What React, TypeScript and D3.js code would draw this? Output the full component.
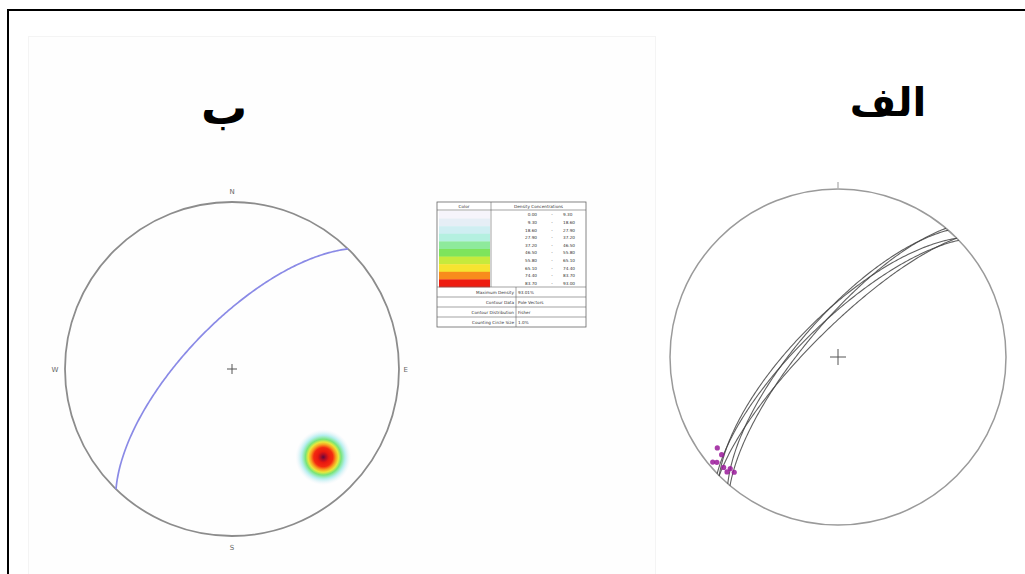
import React from "react";
import * as d3 from "d3";

const W = 1025;
const H = 574;

// Net "ب": one plane (dip direction / dip) and the pole density peak
const leftPlanes = [{ dipDir: 314, dip: 68 }];
const leftPole = { trend: 134, plunge: 25 };
const compassLabels = ["N", "E", "S", "W"];

// Net "الف": measured planes and lineations
const rightPlanes = [
  { dipDir: 310, dip: 74 },
  { dipDir: 311, dip: 71 },
  { dipDir: 315, dip: 77 },
  { dipDir: 316, dip: 73 },
  { dipDir: 315, dip: 70 },
];
const rightLineations = [
  { trend: 233, plunge: 11 },
  { trend: 230, plunge: 10.5 },
  { trend: 230, plunge: 3 },
  { trend: 229, plunge: 5 },
  { trend: 226, plunge: 6 },
  { trend: 224, plunge: 5.5 },
  { trend: 222, plunge: 8.5 },
  { trend: 224, plunge: 8.5 },
];

// Legend: density classes
const densityColors = [
  "#f6f4fb", "#e6eef6", "#cfeef2", "#b4f0e0", "#8eea9c",
  "#7ee45c", "#c6ea3c", "#f6e430", "#f88c1c", "#ee1c10",
];
const densityBreaks = [
  "0.00", "9.30", "18.60", "27.90", "37.20", "46.50",
  "55.80", "65.10", "74.40", "83.70", "93.00",
];
const infoLabels = ["Maximum Density", "Contour Data", "Contour Distribution", "Counting Circle Size"];
const infoValues = ["93.01%", "Pole Vectors", "Fisher", "1.0%"];

const rad = Math.PI / 180;

// Lower-hemisphere equal-area projection to unit-disc coords (east, south)
function project(trend: number, plunge: number): [number, number] {
  const rho = Math.SQRT2 * Math.sin(((90 - plunge) / 2) * rad);
  return [rho * Math.sin(trend * rad), -rho * Math.cos(trend * rad)];
}

function greatCircle(dipDir: number, dip: number): [number, number][] {
  const st = (dipDir - 90) * rad;
  const dd = dipDir * rad;
  const dp = dip * rad;
  const S = [Math.cos(st), Math.sin(st), 0];
  const D = [Math.cos(dp) * Math.cos(dd), Math.cos(dp) * Math.sin(dd), Math.sin(dp)];
  return d3.range(0, 180.5, 1).map((t) => {
    const c = Math.cos(t * rad);
    const s = Math.sin(t * rad);
    const v = [c * S[0] + s * D[0], c * S[1] + s * D[1], c * S[2] + s * D[2]];
    const plunge = Math.asin(Math.max(-1, Math.min(1, v[2]))) / rad;
    const trend = Math.atan2(v[1], v[0]) / rad;
    return project(trend, plunge);
  });
}

function makeNet(cx: number, cy: number, r: number) {
  const x = d3.scaleLinear().domain([-1, 1]).range([cx - r, cx + r]);
  const y = d3.scaleLinear().domain([-1, 1]).range([cy - r, cy + r]);
  const line = d3
    .line<[number, number]>()
    .x((d) => x(d[0]))
    .y((d) => y(d[1]))
    .curve(d3.curveLinear);
  return { x, y, line, cx, cy, r };
}

const leftNet = makeNet(232, 369, 167);
const rightNet = makeNet(838, 357, 168);

const FONT = "'DejaVu Sans', sans-serif";

function Legend() {
  const x0 = 437, y0 = 202, x1 = 586, y1 = 327;
  const headH = 8;
  const colX = 491;
  const barTop = y0 + headH + 1;
  const barBottom = 287;
  const bandH = (barBottom - barTop) / densityColors.length;
  const infoRowH = (y1 - barBottom) / infoLabels.length;
  const infoX = 516;
  const fs = 4.2;
  return (
    <g fontFamily={FONT} fontSize={fs} fill="#333">
      <rect x={x0} y={y0} width={x1 - x0} height={y1 - y0} fill="#fff" stroke="#666" strokeWidth={0.8} />
      <line x1={x0} x2={x1} y1={y0 + headH} y2={y0 + headH} stroke="#666" strokeWidth={0.6} />
      <line x1={colX} x2={colX} y1={y0} y2={barBottom} stroke="#666" strokeWidth={0.6} />
      <text x={(x0 + colX) / 2} y={y0 + headH - 2.2} textAnchor="middle">Color</text>
      <text x={(colX + x1) / 2} y={y0 + headH - 2.2} textAnchor="middle">Density Concentrations</text>
      {densityColors.map((c, i) => (
        <rect key={c} x={x0 + 2} y={barTop + i * bandH} width={colX - x0 - 3} height={bandH + 0.3} fill={c} />
      ))}
      {densityColors.map((_, i) => (
        <g key={"r" + i}>
          <text x={537} y={barTop + i * bandH + bandH / 2 + 1.5} textAnchor="end">{densityBreaks[i]}</text>
          <text x={552} y={barTop + i * bandH + bandH / 2 + 1.5} textAnchor="middle">-</text>
          <text x={563} y={barTop + i * bandH + bandH / 2 + 1.5}>{densityBreaks[i + 1]}</text>
        </g>
      ))}
      {infoLabels.map((lab, i) => {
        const yy = barBottom + i * infoRowH;
        return (
          <g key={lab}>
            <line x1={x0} x2={x1} y1={yy} y2={yy} stroke="#666" strokeWidth={0.6} />
            <text x={infoX - 2} y={yy + infoRowH / 2 + 1.5} textAnchor="end">{lab}</text>
            <text x={infoX + 2} y={yy + infoRowH / 2 + 1.5}>{infoValues[i]}</text>
          </g>
        );
      })}
      <line x1={infoX} x2={infoX} y1={barBottom} y2={y1} stroke="#666" strokeWidth={0.6} />
    </g>
  );
}

export default function App() {
  const L = leftNet;
  const R = rightNet;
  const [pe, ps] = project(leftPole.trend, leftPole.plunge);
  const poleX = L.x(pe);
  const poleY = L.y(ps);
  const labelPos: Record<string, [number, number]> = {
    N: [0, -1.065],
    E: [1.04, 0],
    S: [0, 1.07],
    W: [-1.06, 0],
  };
  return (
    <svg
      width={W}
      height={H}
      viewBox={`0 0 ${W} ${H}`}
      style={{ position: "absolute", left: 0, top: 0, background: "#fff" }}
    >
      <defs>
        <radialGradient id="densitySpot">
          <stop offset="0%" stopColor="#5c0a3c" />
          <stop offset="9%" stopColor="#a80c28" />
          <stop offset="20%" stopColor="#e81810" />
          <stop offset="34%" stopColor="#f42a10" />
          <stop offset="45%" stopColor="#f8a020" />
          <stop offset="54%" stopColor="#e8e83c" />
          <stop offset="64%" stopColor="#78e47a" />
          <stop offset="78%" stopColor="#a8ecec" stopOpacity={0.85} />
          <stop offset="100%" stopColor="#eef0fa" stopOpacity={0} />
        </radialGradient>
      </defs>

      {/* outer frame */}
      <line x1={7} x2={W} y1={10} y2={10} stroke="#000" strokeWidth={2} />
      <line x1={8} x2={8} y1={9} y2={H} stroke="#000" strokeWidth={2} />
      {/* faint panel behind left net */}
      <rect x={28.5} y={36.5} width={627} height={H} fill="#fefefe" stroke="#f4f4f4" strokeWidth={1} />

      {/* titles */}
      <text x={224} y={124} textAnchor="middle" fontFamily={FONT} fontWeight="bold" fontSize={46} fill="#000">ب</text>
      <text x={888} y={116} textAnchor="middle" fontFamily={FONT} fontWeight="bold" fontSize={40} fill="#000">الف</text>

      {/* left net */}
      <circle cx={L.cx} cy={L.cy} r={L.r} fill="none" stroke="#8c8c8c" strokeWidth={1.8} />
      {compassLabels.map((k) => (
        <text
          key={k}
          x={L.x(labelPos[k][0])}
          y={L.y(labelPos[k][1]) + 2.5}
          textAnchor="middle"
          fontFamily={FONT}
          fontSize={7}
          fill="#666"
        >
          {k}
        </text>
      ))}
      <path d={`M${L.cx - 5},${L.cy}H${L.cx + 5}M${L.cx},${L.cy - 5}V${L.cy + 5}`} stroke="#555" strokeWidth={1} />
      {leftPlanes.map((p, i) => (
        <path key={i} d={L.line(greatCircle(p.dipDir, p.dip)) || ""} fill="none" stroke="#8a8ae6" strokeWidth={1.7} />
      ))}
      <circle cx={poleX} cy={poleY} r={28} fill="url(#densitySpot)" />

      <Legend />

      {/* right net */}
      <circle cx={R.cx} cy={R.cy} r={R.r} fill="none" stroke="#9a9a9a" strokeWidth={1.5} />
      <line x1={R.cx} x2={R.cx} y1={R.cy - R.r - 7} y2={R.cy - R.r - 1} stroke="#999" strokeWidth={1} />
      <path d={`M${R.cx - 8},${R.cy}H${R.cx + 8}M${R.cx},${R.cy - 8}V${R.cy + 8}`} stroke="#555" strokeWidth={1} />
      {rightPlanes.map((p, i) => (
        <path key={i} d={R.line(greatCircle(p.dipDir, p.dip)) || ""} fill="none" stroke="#444" strokeOpacity={0.85} strokeWidth={1.1} />
      ))}
      {rightLineations.map((l, i) => {
        const [e, s] = project(l.trend, l.plunge);
        return <circle key={i} cx={R.x(e)} cy={R.y(s)} r={2.6} fill="#9a1a9a" fillOpacity={0.85} />;
      })}
    </svg>
  );
}
